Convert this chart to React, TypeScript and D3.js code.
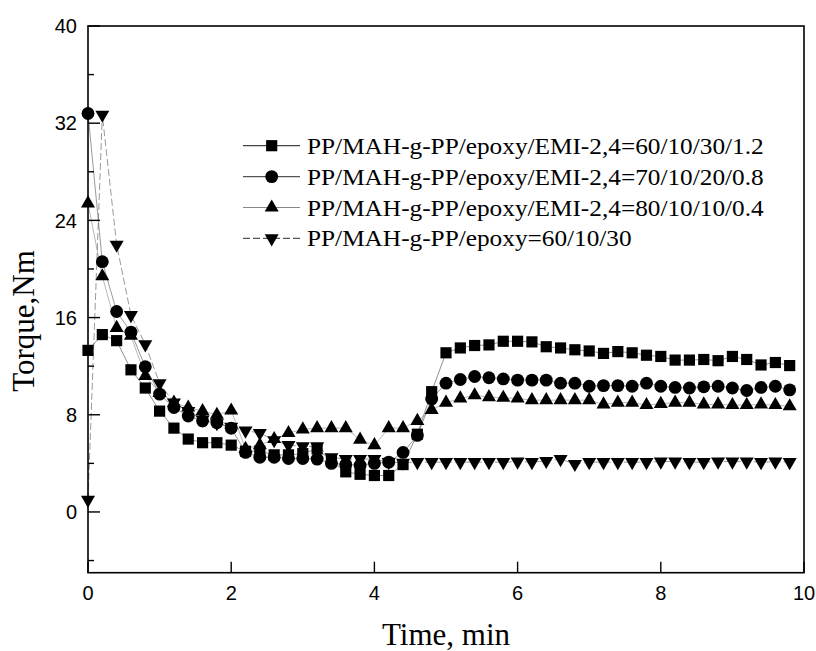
import React, { useRef, useEffect } from 'react'
import * as d3 from 'd3'

// time, min (one reading every 0.2 min)
const times = [
  0, 0.2, 0.4, 0.6, 0.8, 1.0, 1.2, 1.4, 1.6, 1.8, 2.0,
  2.2, 2.4, 2.6, 2.8, 3.0, 3.2, 3.4, 3.6, 3.8, 4.0,
  4.2, 4.4, 4.6, 4.8, 5.0, 5.2, 5.4, 5.6, 5.8, 6.0,
  6.2, 6.4, 6.6, 6.8, 7.0, 7.2, 7.4, 7.6, 7.8, 8.0,
  8.2, 8.4, 8.6, 8.8, 9.0, 9.2, 9.4, 9.6, 9.8
]

// torque, Nm
const torque603012 = [
  13.3, 14.6, 14.1, 11.7, 10.2, 8.3, 6.9, 6.0, 5.7, 5.7, 5.5,
  5.0, 5.0, 4.7, 4.7, 4.8, 5.2, 4.2, 3.3, 3.1, 3.0,
  3.0, 3.9, 6.4, 9.9, 13.1, 13.5, 13.7, 13.75, 14.05, 14.05,
  14.0, 13.6, 13.5, 13.35, 13.25, 13.05, 13.2, 13.1, 12.9, 12.8,
  12.5, 12.5, 12.55, 12.45, 12.8, 12.55, 12.1, 12.3, 12.05
]
const torque701008 = [
  32.8, 20.6, 16.5, 14.8, 11.95, 9.7, 8.6, 7.9, 7.5, 7.35, 6.9,
  4.9, 4.5, 4.5, 4.4, 4.4, 4.35, 4.0, 3.9, 3.85, 4.0,
  4.1, 4.9, 6.3, 9.3, 10.6, 10.9, 11.15, 11.05, 10.95, 10.85,
  10.85, 10.85, 10.6, 10.6, 10.35, 10.4, 10.4, 10.35, 10.6, 10.35,
  10.25, 10.2, 10.3, 10.35, 10.2, 10.0, 10.25, 10.35, 10.05
]
const torque801004 = [
  25.4, 19.4, 15.15, 14.5, 11.2, 9.8, 9.0, 8.6, 8.3, 8.0, 8.35,
  5.2, 5.5, 6.0, 6.5, 6.8, 6.9, 6.9, 6.9, 5.95, 5.5,
  6.9, 6.9, 7.5, 8.4, 9.0, 9.35, 9.6, 9.45, 9.4, 9.35,
  9.2, 9.2, 9.2, 9.2, 9.2, 8.85, 9.0, 9.0, 8.8, 8.9,
  9.0, 9.0, 8.85, 8.85, 8.8, 8.8, 8.85, 8.8, 8.7
]
const torqueNoCure = [
  1.0, 32.7, 22.0, 16.2, 13.8, 10.6, 9.0, 8.3, 7.6, 7.3, 7.0,
  6.7, 6.5, 5.9, 5.5, 5.4, 5.4, 4.5, 4.35, 4.35, 4.35,
  4.1, 4.05, 4.1, 4.1, 4.1, 4.1, 4.1, 4.1, 4.1, 4.15,
  4.1, 4.2, 4.35, 3.95, 4.1, 4.1, 4.1, 4.1, 4.1, 4.15,
  4.15, 4.1, 4.1, 4.15, 4.15, 4.15, 4.1, 4.15, 4.1
]

const seriesNames = [
  'PP/MAH-g-PP/epoxy/EMI-2,4=60/10/30/1.2',
  'PP/MAH-g-PP/epoxy/EMI-2,4=70/10/20/0.8',
  'PP/MAH-g-PP/epoxy/EMI-2,4=80/10/10/0.4',
  'PP/MAH-g-PP/epoxy=60/10/30'
]

const xTicks = [0, 2, 4, 6, 8, 10]
const yMajorTicks = [0, 8, 16, 24, 32, 40]
const yMinorTicks = [-4, 4, 12, 20, 28, 36]

export default function App() {
  const svgRef = useRef<SVGSVGElement>(null)

  useEffect(() => {
    const svg = d3.select(svgRef.current)
    svg.selectAll('*').remove()

    const left = 88
    const right = 804
    const top = 26
    const bottom = 572.7

    const x = d3.scaleLinear().domain([0, 10]).range([left, right])
    const y = d3.scaleLinear().domain([-5, 40]).range([bottom, top])

    const styles = [
      { symbol: d3.symbolSquare, size: 125, rotate: 0, stroke: '#444', width: 0.6, dash: null },
      { symbol: d3.symbolCircle, size: 130, rotate: 0, stroke: '#555', width: 0.6, dash: null },
      { symbol: d3.symbolTriangle, size: 85, rotate: 0, stroke: '#888', width: 0.6, dash: null },
      { symbol: d3.symbolTriangle, size: 85, rotate: 180, stroke: '#555', width: 0.6, dash: '7,3' }
    ]
    const allSeries = [torque603012, torque701008, torque801004, torqueNoCure]

    const line = d3
      .line<number>()
      .x((d, i) => x(times[i]))
      .y(d => y(d))

    // connecting lines
    allSeries.forEach((vals, k) => {
      const s = styles[k]
      svg
        .append('path')
        .datum(vals)
        .attr('d', line)
        .attr('fill', 'none')
        .attr('stroke', s.stroke)
        .attr('stroke-width', s.width)
        .attr('stroke-dasharray', s.dash)
    })

    // markers
    allSeries.forEach((vals, k) => {
      const s = styles[k]
      const sym = d3.symbol().type(s.symbol).size(s.size)
      svg
        .append('g')
        .selectAll('path')
        .data(vals)
        .join('path')
        .attr('d', sym)
        .attr('transform', (d, i) => `translate(${x(times[i])},${y(d)}) rotate(${s.rotate})`)
        .attr('fill', '#000')
    })

    // frame
    svg
      .append('rect')
      .attr('x', left)
      .attr('y', top)
      .attr('width', right - left)
      .attr('height', bottom - top)
      .attr('fill', 'none')
      .attr('stroke', '#000')
      .attr('stroke-width', 1.6)

    // y ticks (inward)
    svg
      .append('g')
      .selectAll('line')
      .data(yMajorTicks)
      .join('line')
      .attr('x1', left)
      .attr('x2', left + 12)
      .attr('y1', d => y(d))
      .attr('y2', d => y(d))
      .attr('stroke', '#000')
      .attr('stroke-width', 1.4)
    svg
      .append('g')
      .selectAll('line')
      .data(yMinorTicks)
      .join('line')
      .attr('x1', left)
      .attr('x2', left + 6)
      .attr('y1', d => y(d))
      .attr('y2', d => y(d))
      .attr('stroke', '#000')
      .attr('stroke-width', 1.4)
    svg
      .append('g')
      .selectAll('text')
      .data(yMajorTicks)
      .join('text')
      .attr('x', left - 11)
      .attr('y', d => y(d))
      .attr('dy', '0.36em')
      .attr('text-anchor', 'end')
      .attr('font-family', 'Arial, "Liberation Sans", sans-serif')
      .attr('font-size', 20)
      .text(d => d)

    // x ticks (inward)
    svg
      .append('g')
      .selectAll('line')
      .data(xTicks)
      .join('line')
      .attr('x1', d => x(d))
      .attr('x2', d => x(d))
      .attr('y1', bottom)
      .attr('y2', bottom - 11)
      .attr('stroke', '#000')
      .attr('stroke-width', 1.4)
    svg
      .append('g')
      .selectAll('text')
      .data(xTicks)
      .join('text')
      .attr('x', d => x(d))
      .attr('y', 600)
      .attr('text-anchor', 'middle')
      .attr('font-family', 'Arial, "Liberation Sans", sans-serif')
      .attr('font-size', 20)
      .text(d => d)

    // axis titles
    svg
      .append('text')
      .attr('x', (left + right) / 2)
      .attr('y', 645)
      .attr('text-anchor', 'middle')
      .attr('font-family', '"Times New Roman", "Liberation Serif", serif')
      .attr('font-size', 31)
      .text('Time, min')
    svg
      .append('text')
      .attr('transform', `translate(34,${321}) rotate(-90)`)
      .attr('text-anchor', 'middle')
      .attr('font-family', '"Times New Roman", "Liberation Serif", serif')
      .attr('font-size', 31)
      .text('Torque,Nm')

    // legend
    const legend = svg.append('g')
    seriesNames.forEach((name, k) => {
      const s = styles[k]
      const ry = 145.7 + k * 30.9
      legend
        .append('line')
        .attr('x1', 243)
        .attr('x2', 300)
        .attr('y1', ry)
        .attr('y2', ry)
        .attr('stroke', s.stroke)
        .attr('stroke-width', 1.2)
        .attr('stroke-dasharray', s.dash)
      legend
        .append('path')
        .attr('d', d3.symbol().type(s.symbol).size(s.size)())
        .attr('transform', `translate(271.7,${ry}) rotate(${s.rotate})`)
        .attr('fill', '#000')
      legend
        .append('text')
        .attr('transform', `translate(307,${ry + 8}) scale(1.1,1)`)
        .attr('font-family', '"Times New Roman", "Liberation Serif", serif')
        .attr('font-size', 23)
        .text(name)
    })
  }, [])

  return (
    <svg
      ref={svgRef}
      width={816}
      height={651}
      style={{ position: 'absolute', left: 0, top: 0, background: '#fff' }}
    />
  )
}
